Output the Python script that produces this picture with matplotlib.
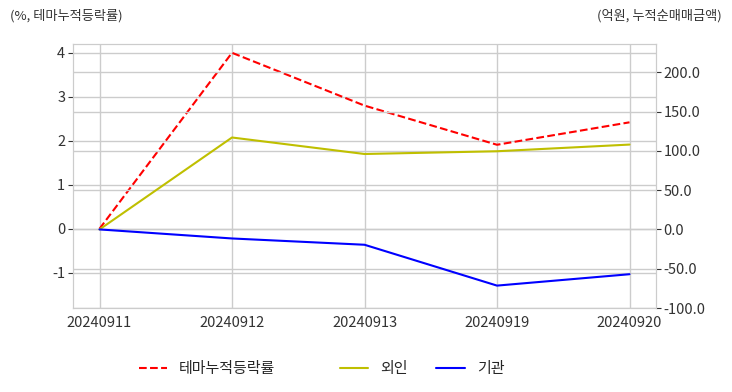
import matplotlib
matplotlib.use("Agg")
import matplotlib.pyplot as plt
import seaborn as sns
from matplotlib.ticker import FormatStrFormatter

dates = ["20240911", "20240912", "20240913", "20240919", "20240920"]
theme_rate = [0.0, 4.0, 2.80, 1.91, 2.42]
foreign = [0.0, 117.0, 96.0, 99.5, 108.0]
institution = [0.0, -11.5, -19.5, -71.5, -57.0]

sns.set_style("whitegrid")
plt.rcParams['font.family'] = ['Noto Sans CJK KR', 'DejaVu Sans']
plt.rcParams['axes.unicode_minus'] = False

fig = plt.figure(figsize=(7.32, 3.92), dpi=100)
ax1 = fig.add_axes([73 / 732, 1 - 308 / 392, (656 - 73) / 732, (308 - 44) / 392])
ax2 = ax1.twinx()

x = range(len(dates))
l1, = ax1.plot(x, theme_rate, 'r--', lw=1.5, label="테마누적등락률")
l2, = ax2.plot(x, foreign, color='y', lw=1.5, label="외인")
l3, = ax2.plot(x, institution, color='b', lw=1.5, label="기관")

ax1.set_xticks(list(x))
ax1.set_xticklabels(dates)
ax1.set_ylim(-1.8, 4.2)
ax2.set_ylim(-100, 236)
ax2.set_yticks([-100, -50, 0, 50, 100, 150, 200])
ax2.yaxis.set_major_formatter(FormatStrFormatter('%.1f'))

for ax in (ax1, ax2):
    ax.tick_params(labelsize=10.5, colors='#333333', pad=2)
    ax.grid(True, color='#cccccc', lw=1)
    for s in ax.spines.values():
        s.set_color('#cccccc')

fig.text(10 / 732, 1 - 16 / 392, "(%, 테마누적등락률)", fontsize=9.5, color='#333333', va='center')
fig.text(722 / 732, 1 - 16 / 392, "(억원, 누적순매매금액)", fontsize=9.5, color='#333333', va='center', ha='right')

leg1 = fig.legend(handles=[l1], loc='center', bbox_to_anchor=(207 / 732, 1 - 369 / 392),
                  frameon=False, fontsize=10.8, handlelength=1.9)
leg2 = fig.legend(handles=[l2, l3], loc='center', bbox_to_anchor=(422 / 732, 1 - 369 / 392),
                  ncol=2, frameon=False, fontsize=10.8, handlelength=1.9, columnspacing=1.9)

fig.savefig("out.png", dpi=100)
